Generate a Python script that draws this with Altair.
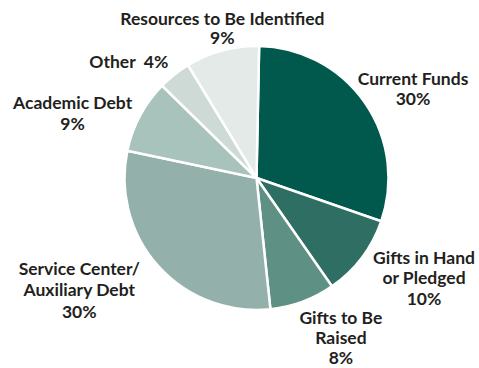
import altair as alt
import pandas as pd

categories = ["Current Funds", "Gifts in Hand or Pledged", "Gifts to Be Raised",
              "Service Center/Auxiliary Debt", "Academic Debt", "Other",
              "Resources to Be Identified"]
values = [30, 10, 8, 30, 9, 4, 9]
labels = ["Current Funds\n30%", "Gifts in Hand\nor Pledged\n10%", "Gifts to Be\nRaised\n8%",
          "Service Center/\nAuxiliary Debt\n30%", "Academic Debt\n9%", "Other\u00a0\u00a04%",
          "Resources to Be Identified\n9%"]
colors = ["#00594c", "#2f6f63", "#5f9084", "#93b1aa", "#a8c2bc", "#cddad6", "#e4eae8"]

df = pd.DataFrame({"category": categories, "value": values, "label": labels,
                   "order": list(range(len(categories)))})

theta = alt.Theta("value:Q", stack=True, scale=alt.Scale(range=[0.02, 6.3032]))
order = alt.Order("order:Q")

base = alt.Chart(df)

pie = base.mark_arc(outerRadius=132, stroke="white", strokeWidth=2.5).encode(
    theta=theta,
    order=order,
    color=alt.Color("category:N", sort=categories,
                    scale=alt.Scale(domain=categories, range=colors), legend=None),
)

# (dx, dy, lineHeight) label tweaks
offsets = {
    "Current Funds": (17, -1, 20),
    "Gifts in Hand or Pledged": (32, -22, 20.5),
    "Gifts to Be Raised": (25, -18, 20),
    "Service Center/Auxiliary Debt": (-51, -22, 21.5),
    "Academic Debt": (-34, 6, 21),
    "Other": (-22, 18, 20),
    "Resources to Be Identified": (10, 6, 19),
}

layers = [pie]
for cat in categories:
    dx, dy, lh = offsets[cat]
    layers.append(
        base.mark_text(radius=170, dx=dx, dy=dy, font="Lato", fontWeight="bold",
                       fontSize=17.5, color="#231f20", lineBreak="\n", lineHeight=lh,
                       align="center", baseline="middle").encode(
            theta=theta,
            order=order,
            text="label:N",
            opacity=alt.condition(alt.datum.category == cat, alt.value(1), alt.value(0)),
        )
    )

chart = alt.layer(*layers).properties(
    width=445, height=356,
    autosize=alt.AutoSizeParams(type="none"),
    padding={"left": 34, "top": 0, "right": 0, "bottom": 12},
).configure_view(stroke=None)

chart.save("out.html", embed_options={"renderer": "svg", "actions": False})
